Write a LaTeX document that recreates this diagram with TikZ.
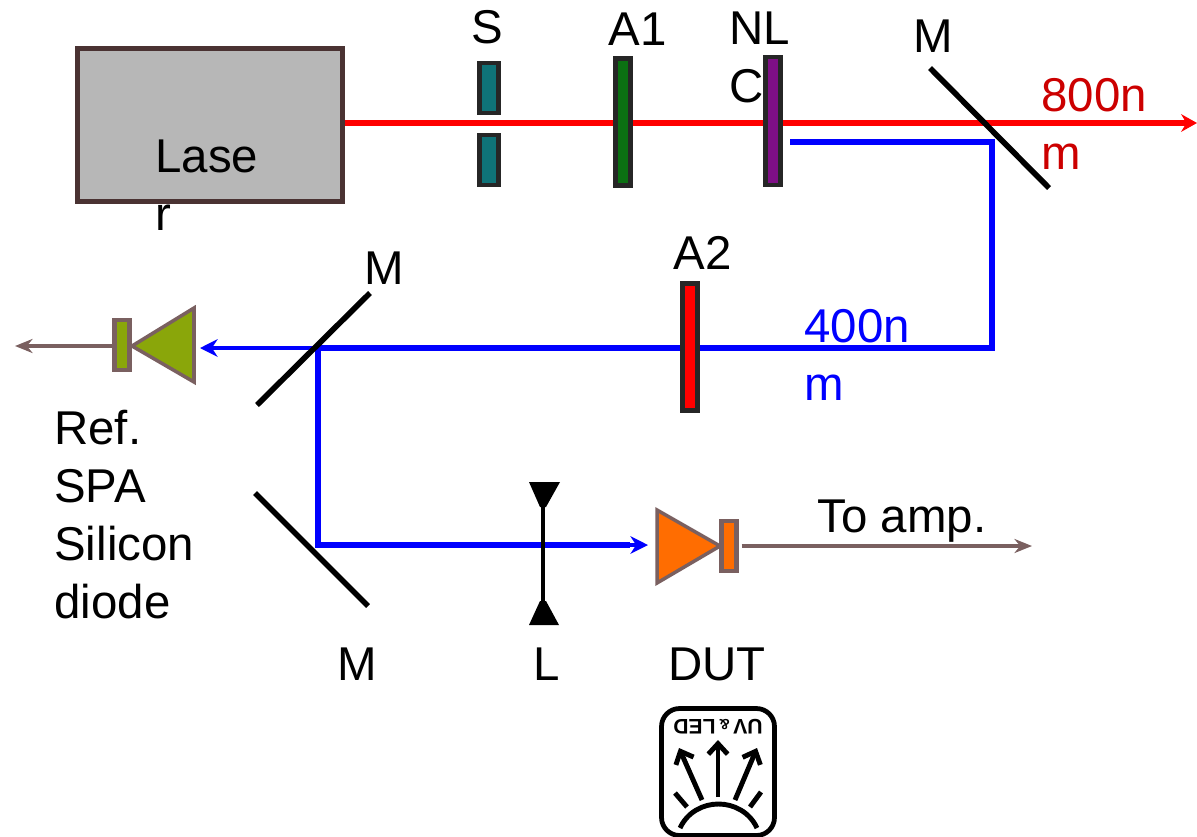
\documentclass[tikz,border=0pt]{standalone}
\usepackage{fontspec}
\setmainfont{Liberation Sans}
\usetikzlibrary{arrows.meta}
\definecolor{boxedge}{HTML}{4A3232}
\definecolor{wire}{HTML}{7A6060}
\definecolor{lasergray}{HTML}{B7B7B7}
\definecolor{shuttercol}{HTML}{0F7378}
\definecolor{filtercol}{HTML}{0B7012}
\definecolor{crystalcol}{HTML}{7F0F86}
\definecolor{dutcol}{HTML}{FF6D01}
\definecolor{refcol}{HTML}{8AA60A}
\definecolor{redtext}{HTML}{CC0000}
\tikzset{
	lab/.style={font=\fontsize{27}{33}\selectfont, inner sep=0pt, anchor=base},
	multilab/.style={font=\fontsize{27}{33}\selectfont, inner sep=0pt, anchor=north west, align=left},
	plate/.style={draw=black!85, line width=2.5pt, minimum width=0.3cm, inner sep=0pt},
	diodebar/.style={draw=wire, line width=2.5pt, minimum width=0.3cm, minimum height=1cm, inner sep=0pt},
	mirror/.style={black, line width=3.2pt},
	redbeam/.style={red, line width=3pt, -{Stealth[length=9pt,width=10pt]}},
	bluebeam/.style={blue, line width=3pt},
	bluearrow/.style={blue, line width=2.2pt, -{Stealth[length=10pt,width=10pt]}},
	wirearrow/.style={wire, line width=2.7pt, -{Stealth[length=10pt,width=8pt]}},
	ledline/.style={black, line width=2.8pt},
	ledarrow/.style={black, line width=2.8pt, -{Straight Barb[length=6pt,width=11pt]}}
}
\begin{document}
\begin{tikzpicture}[x=0.02cm,y=-0.02cm]
	\useasboundingbox (0,0) rectangle (1197,836);
	% beam corners
	\coordinate (redend) at (1197,123);
	\coordinate (blueA) at (790,142);
	\coordinate (blueB) at (992,142);
	\coordinate (blueC) at (992,348);
	\coordinate (split) at (318,348);
	\coordinate (refend) at (200,348);
	\coordinate (blueD) at (318,545);
	\coordinate (dutend) at (648,545);
	\coordinate (ampend) at (1032,546);
	\coordinate (refout) at (15,346);
	% mirror ends
	\coordinate (mtopA) at (930,68);
	\coordinate (mtopB) at (1049,188);
	\coordinate (mmidA) at (370,293);
	\coordinate (mmidB) at (257,405);
	\coordinate (mlowA) at (255,493);
	\coordinate (mlowB) at (368,606);
	% lens ends
	\coordinate (lenstop) at (543,484);
	\coordinate (lensbot) at (543,624);

	\node[draw=boxedge, fill=lasergray, line width=2.5pt, minimum width=5.3cm, minimum height=3.06cm, inner sep=0pt] (laser) at (210,125) {};
	\draw[redbeam] (laser.east |- redend) -- (redend);

	\node[plate, fill=shuttercol, minimum width=0.38cm, minimum height=1cm] (shutterA) at (489,88) {};
	\node[plate, fill=shuttercol, minimum width=0.38cm, minimum height=1cm] (shutterB) at (489,160) {};
	\node[plate, fill=filtercol, minimum height=2.54cm] (filterA) at (623,122) {};
	\node[plate, fill=crystalcol, minimum height=2.56cm] (crystal) at (773,121) {};

	\draw[bluebeam] (blueA) -- (blueB) -- (blueC) -- (split);
	\draw[bluearrow] (split) -- (refend);
	\draw[bluebeam, line cap=butt] (split) -- (blueD) -- (630,545);
	\draw[bluearrow] (625,545) -- (dutend);
	\node[plate, fill=red, minimum height=2.54cm] (filterB) at (690,347) {};

	\draw[mirror] (mtopA) -- (mtopB);
	\draw[mirror] (mmidA) -- (mmidB);
	\draw[mirror] (mlowA) -- (mlowB);

	\draw[black, line width=2.4pt] (lenstop) -- (lensbot);
	\fill[black] (529,482) -- (560,482) -- (546,507) -- (540,507) -- cycle;
	\fill[black] (529,625) -- (559,625) -- (546,601) -- (540,601) -- cycle;

	% DUT
	\draw[wire, fill=dutcol, line width=2pt] (657,510) -- (657,583) -- (720,546) -- cycle;
	\node[diodebar, fill=dutcol] (dutbar) at (729,546) {};
	\draw[wirearrow] (dutbar.east |- ampend) ++(3,0) -- (ampend);

	% reference diode
	\draw[wire, fill=refcol, line width=2pt] (194,308) -- (194,382) -- (132,346) -- cycle;
	\node[diodebar, fill=refcol] (refbar) at (122,345) {};
	\draw[wirearrow] (refbar.west |- refout) -- (refout);

	% labels
	\node[multilab] (laserlab) at (155,140) {Lase\\r};
	\node[lab] (slab) at (487,43) {S};
	\node[lab] (aonelab) at (638,45) {A1};
	\node[multilab] (crystallab) at (729,12) {NL\\C};
	\node[lab] (mtoplab) at (933,52) {M};
	\node[multilab, text=redtext] (redlab) at (1041,78) {800n\\m};
	\node[lab] (atwolab) at (703,269) {A2};
	\node[lab] (mmidlab) at (384,284) {M};
	\node[multilab, text=blue] (bluelab) at (804,309) {400n\\m};
	\node[multilab] (reflab) at (54,410) {Ref.\\SPA\\Silicon\\diode};
	\node[lab] (mlowlab) at (357,680) {M};
	\node[lab] (lenslab) at (547,680) {L};
	\node[lab] (dutlab) at (717,680) {DUT};
	\node[lab] (amplab) at (902,532) {To amp.};

	% upside down LED mark
	\node[draw=black, line width=2.7pt, rounded corners=0.36cm, minimum width=2.26cm, minimum height=2.54cm, inner sep=0pt] (ledbox) at (718,772) {};
	\node[rotate=180, inner sep=0pt, font=\fontsize{12}{12}\selectfont\bfseries] (ledlab) at (718,727) {UV\,\scalebox{0.7}{\&}\,LED};
	\coordinate (ledA) at (702,800);
	\coordinate (ledAend) at (679,748);
	\coordinate (ledB) at (718,797);
	\coordinate (ledBend) at (718,740);
	\coordinate (ledC) at (735,800);
	\coordinate (ledCend) at (757,748);
	\draw[ledarrow] (ledA) -- (ledAend);
	\draw[ledarrow] (ledB) -- (ledBend);
	\draw[ledarrow] (ledC) -- (ledCend);
	\draw[ledline] (687,807) -- (675,793);
	\draw[ledline] (750,807) -- (761,792);
	\draw[ledline] (680,828) .. controls (695,796) and (742,796) .. (757,828);
\end{tikzpicture}
\end{document}
